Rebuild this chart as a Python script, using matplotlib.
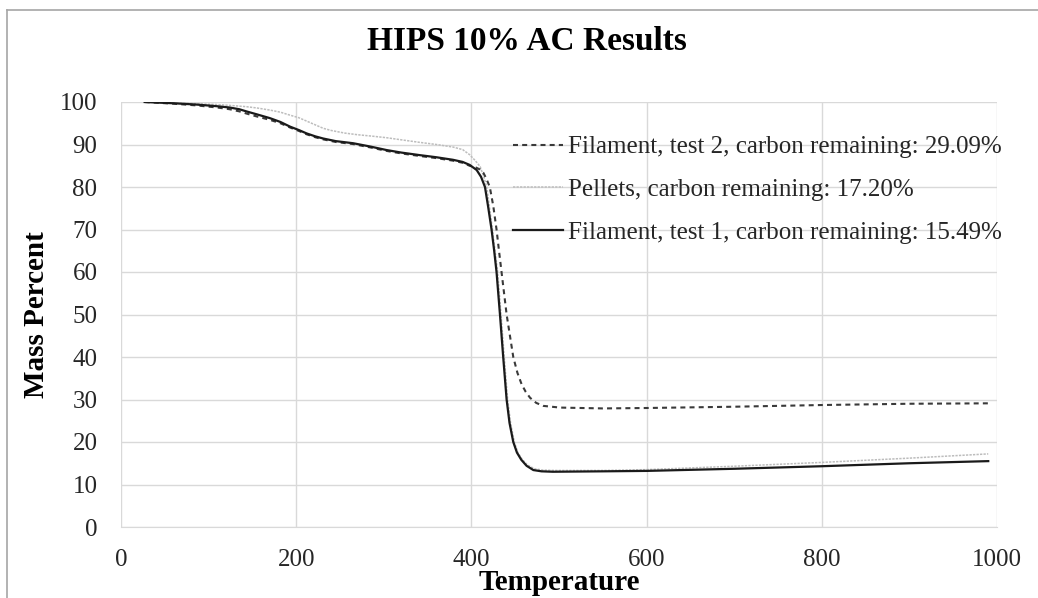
import matplotlib
matplotlib.use("Agg")
import matplotlib.pyplot as plt
from matplotlib.lines import Line2D

# Filament, test 2 (dashed)
t_fil2 = [27, 60, 86, 110, 124, 135, 143, 155, 170, 182, 193, 203, 212, 222, 231, 245, 265, 285, 303, 320, 341, 360, 379, 390, 398, 405, 410, 413.5, 417, 421, 425, 428.7, 431.5, 434.4, 440.2, 447.8, 452.5, 457.3, 462, 467, 474, 482, 501, 550, 600, 700, 800, 900, 990]
m_fil2 = [100, 99.6, 99.2, 98.7, 98.3, 97.8, 97.3, 96.6, 95.8, 95.0, 94.0, 93.2, 92.4, 91.7, 91.2, 90.6, 90.1, 89.3, 88.5, 87.9, 87.3, 86.8, 86.2, 85.7, 85.0, 84.6, 84.1, 83.4, 82.0, 80.0, 75.5, 70.0, 65.0, 60.0, 50.0, 40.0, 36.3, 33.6, 31.8, 30.4, 29.2, 28.5, 28.1, 27.9, 28.0, 28.3, 28.7, 29.0, 29.1]

# Pellets (light grey)
t_pel = [27, 60, 86, 110, 124, 143, 155, 170, 182, 193, 203, 212, 222, 231, 240, 255, 270, 285, 303, 320, 341, 360, 379, 390, 398, 404, 410, 414, 417.5, 420.5, 424, 427, 430, 433.8, 437.5, 441.4, 444.7, 449, 453, 458, 464, 472, 481, 495, 550, 600, 700, 800, 900, 990]
m_pel = [100, 99.8, 99.6, 99.4, 99.2, 98.9, 98.6, 98.1, 97.6, 96.9, 96.3, 95.5, 94.6, 93.8, 93.3, 92.7, 92.3, 92.0, 91.6, 91.1, 90.5, 90.0, 89.4, 88.8, 87.6, 86.3, 84.8, 82.5, 80.0, 75.5, 70.0, 65.0, 60.0, 50.0, 40.0, 30.0, 24.5, 20.0, 17.5, 15.9, 14.6, 13.7, 13.4, 13.3, 13.3, 13.5, 14.3, 15.2, 16.2, 17.2]

# Filament, test 1 (solid)
t_fil1 = [27, 60, 86, 110, 124, 135, 143, 155, 170, 182, 193, 203, 212, 222, 231, 245, 265, 285, 303, 320, 341, 360, 379, 390, 398, 406, 411, 415.5, 419, 423, 426, 428.7, 432.6, 436.3, 440.2, 443.5, 447.8, 452, 457, 463, 470.7, 480, 493, 550, 600, 700, 800, 900, 990]
m_fil1 = [100, 99.7, 99.4, 99.0, 98.7, 98.3, 97.8, 97.1, 96.2, 95.3, 94.2, 93.4, 92.6, 91.9, 91.4, 90.8, 90.3, 89.5, 88.7, 88.1, 87.5, 87.0, 86.4, 85.9, 85.2, 84.0, 82.4, 80.0, 75.5, 70.0, 65.0, 60.0, 50.0, 40.0, 30.0, 24.5, 20.0, 17.5, 15.8, 14.4, 13.4, 13.1, 13.0, 13.1, 13.2, 13.7, 14.3, 15.0, 15.5]

labels = ["Filament, test 2, carbon remaining: 29.09%",
          "Pellets, carbon remaining: 17.20%",
          "Filament, test 1, carbon remaining: 15.49%"]
title = "HIPS 10% AC Results"
xlabel = "Temperature"
ylabel = "Mass Percent"
xticks = [0, 200, 400, 600, 800, 1000]
yticks = list(range(0, 101, 10))

plt.rcParams['font.family'] = ['Liberation Serif', 'DejaVu Serif']

W, H = 1038, 598
fig = plt.figure(figsize=(W / 100, H / 100), dpi=100)
ax = fig.add_axes([121 / W, 1 - 527 / H, (997 - 121) / W, (527 - 102) / H])

# chart-area border (top and left edges visible in the reference)
fig.add_artist(Line2D([7 / W, 1.0], [1 - 10 / H, 1 - 10 / H], transform=fig.transFigure,
                      color='#a6a6a6', lw=1.2))
fig.add_artist(Line2D([7 / W, 7 / W], [0.0, 1 - 10 / H], transform=fig.transFigure,
                      color='#a6a6a6', lw=1.2))

ax.plot(t_fil2, m_fil2, color='#3a3a3a', lw=1.5, ls=(0, (2.4, 2.0)), label=labels[0], zorder=3)
ax.plot(t_pel, m_pel, color='#bdbdbd', lw=1.1, ls=(0, (1.5, 0.8)), label=labels[1], zorder=2)
ax.plot(t_fil1, m_fil1, color='#1a1a1a', lw=1.6, ls='-', label=labels[2], zorder=4)

ax.set_xlim(0, 1000)
ax.set_ylim(0, 100)
ax.set_xticks(xticks)
ax.set_yticks(yticks)
ax.grid(True, color='#d9d9d9', lw=1.0)
ax.set_axisbelow(True)
for s in ['top', 'right', 'left']:
    ax.spines[s].set_visible(False)
ax.spines['bottom'].set_color('#d9d9d9')
ax.tick_params(axis='both', length=0, labelsize=18, colors='#262626')
ax.tick_params(axis='x', pad=16)
ax.tick_params(axis='y', pad=17)

fig.text(527 / W, 1 - 41 / H, title, fontsize=24, fontweight='bold',
         ha='center', va='center', color='#000000')
ax.set_xlabel(xlabel, fontsize=21, fontweight='bold')
ax.xaxis.set_label_coords(0.5, -0.098)
ax.set_ylabel(ylabel, fontsize=21, fontweight='bold')
ax.yaxis.set_label_coords(-0.081, 0.5)

leg = ax.legend(loc='upper left', bbox_to_anchor=((513 - 121) / 876, (527 - 136) / 425),
                frameon=False, fontsize=18, handlelength=2.0, handletextpad=0.2,
                labelspacing=0.8, borderpad=0, borderaxespad=0)
for t in leg.get_texts():
    t.set_color('#262626')

fig.savefig('out.png', dpi=100)
